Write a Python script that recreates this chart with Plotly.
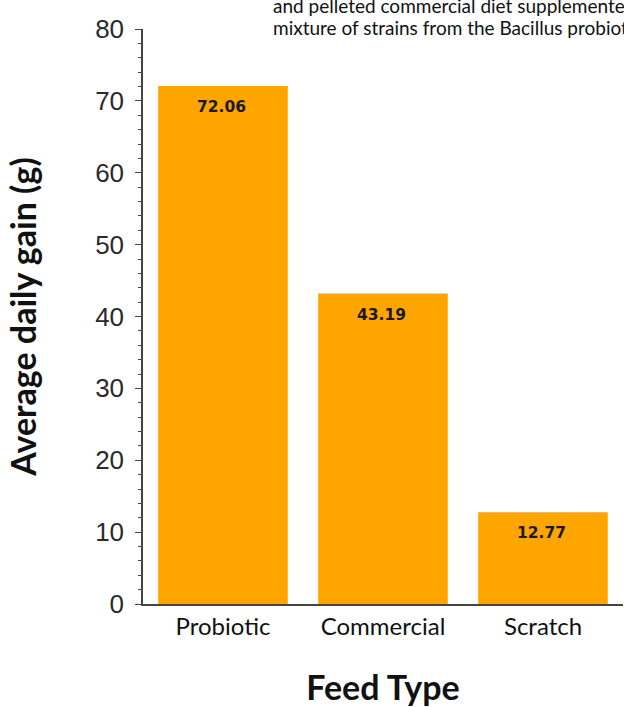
import plotly.graph_objects as go

feed_types = ["Probiotic", "Commercial", "Scratch"]
avg_daily_gain = [72.06, 43.19, 12.77]
value_labels = ["72.06", "43.19", "12.77"]
y_ticks = [0, 10, 20, 30, 40, 50, 60, 70, 80]
caption_lines = [
    "and pelleted commercial diet supplemented with a",
    "mixture of strains from the Bacillus probiotic",
]

bar_color = "#FFA500"
axis_color = "#444444"
text_font = "Lato, Open Sans, Noto Sans"

fig = go.Figure()
fig.add_trace(go.Bar(
    x=feed_types,
    y=avg_daily_gain,
    marker=dict(color=bar_color, line=dict(width=0)),
    width=0.81,
    hoverinfo="x+y",
))

# value labels sitting just inside the top of each bar
for cat, val, lab in zip(feed_types, avg_daily_gain, value_labels):
    fig.add_annotation(
        x=cat, y=val, xref="x", yref="y",
        text=f"<b>{lab}</b>", showarrow=False,
        yshift=-21, xshift=-2, yanchor="middle",
        font=dict(family="DejaVu Sans", size=15.5, color="#1a1a1a"),
    )

# caption text running off the top/right edge of the page
for i, line in enumerate(caption_lines):
    fig.add_annotation(
        xref="paper", yref="paper", x=0.266, y=1.0, xanchor="left", yanchor="middle",
        yshift=24 - 22 * i, text=line, showarrow=False, align="left",
        font=dict(family=text_font, size=19, color="#111111"),
    )

fig.update_layout(
    width=624, height=707,
    margin=dict(l=143, r=1, t=29, b=103),
    paper_bgcolor="white",
    plot_bgcolor="white",
    showlegend=False,
)

fig.update_xaxes(
    range=[-0.5, 2.5],
    showline=True, linecolor=axis_color, linewidth=1.5,
    ticks="", showgrid=False, zeroline=False,
    tickfont=dict(family=text_font, size=24, color="#111111"),
    title=dict(text="<b>Feed Type</b>", standoff=39,
               font=dict(family=text_font, size=34, color="#111111")),
)

fig.update_yaxes(
    range=[0, 80],
    tickvals=y_ticks,
    showline=True, linecolor=axis_color, linewidth=1.5,
    ticks="outside", ticklen=6, tickwidth=1, tickcolor=axis_color,
    ticklabelstandoff=6,
    minor=dict(dtick=2, ticks="outside", ticklen=3, tickcolor=axis_color, tickwidth=1),
    showgrid=False, zeroline=False,
    tickfont=dict(family="Liberation Sans, Arial", size=26, color="#2a2a2a"),
    title=dict(text="<b>Average daily gain (g)</b>", standoff=48,
               font=dict(family=text_font, size=34, color="#111111")),
)

fig.write_html("out.html")
